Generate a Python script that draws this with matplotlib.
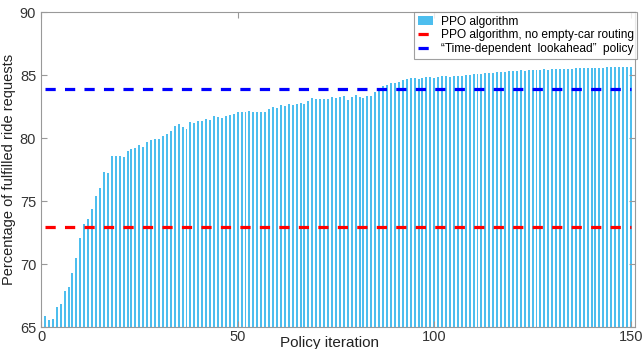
import matplotlib
matplotlib.use("Agg")
import matplotlib.pyplot as plt
import numpy as np

iterations = list(range(1, 151))
ppo_values = [
    65.87, 65.56, 65.63, 66.60, 66.85, 67.86, 68.20, 69.30, 70.50, 72.10,
    73.20, 73.60, 74.40, 75.40, 76.00, 77.30, 77.25, 78.60, 78.60, 78.55,
    78.50, 79.00, 79.13, 79.23, 79.44, 79.29, 79.70, 79.84, 79.90, 79.95,
    80.16, 80.35, 80.56, 80.93, 81.11, 80.87, 80.71, 81.24, 81.19, 81.35,
    81.35, 81.53, 81.43, 81.77, 81.64, 81.59, 81.75, 81.83, 81.93, 82.04,
    82.09, 82.06, 82.14, 82.04, 82.04, 82.04, 82.04, 82.30, 82.46, 82.38,
    82.62, 82.54, 82.67, 82.64, 82.72, 82.78, 82.70, 82.94, 83.20, 83.07,
    83.07, 83.07, 83.07, 83.23, 83.20, 83.25, 83.36, 83.04, 83.23, 83.41,
    83.25, 83.20, 83.33, 83.33, 83.65, 83.76, 84.13, 84.21, 84.34, 84.34,
    84.44, 84.58, 84.68, 84.80, 84.80, 84.68, 84.79, 84.82, 84.82, 84.79,
    84.84, 84.92, 84.90, 84.84, 84.90, 84.95, 84.92, 85.00, 85.00, 85.05,
    85.05, 85.10, 85.13, 85.13, 85.18, 85.21, 85.21, 85.26, 85.29, 85.32,
    85.34, 85.36, 85.35, 85.38, 85.40, 85.40, 85.42, 85.44, 85.43, 85.45,
    85.47, 85.46, 85.48, 85.50, 85.50, 85.52, 85.53, 85.52, 85.55, 85.56,
    85.57, 85.56, 85.58, 85.60, 85.61, 85.60, 85.63, 85.64, 85.62, 85.65,
]
no_routing_value = 72.93
lookahead_value = 83.85

x_ticks = [0, 50, 100, 150]
y_ticks = [65, 70, 75, 80, 85, 90]

plt.rcParams['font.family'] = ['Liberation Sans', 'DejaVu Sans']

fig = plt.figure(figsize=(6.44, 3.49), dpi=100)
ax = fig.add_axes([0.0637, 0.063, 0.922, 0.9026])

bar_color = '#4DBEEE'
h_bar = ax.bar(iterations, [v - 65 for v in ppo_values], bottom=65, width=0.5,
               color=bar_color, edgecolor='none', linewidth=0,
               label='PPO algorithm')

lw = 2.3
h_red, = ax.plot([iterations[0], iterations[-1]], [no_routing_value] * 2,
                 color='#FF0000', linewidth=lw, linestyle=(0, (3.2, 2.9)),
                 label='PPO algorithm, no empty-car routing')
h_blue, = ax.plot([iterations[0], iterations[-1]], [lookahead_value] * 2,
                  color='#0000FF', linewidth=lw, linestyle=(0, (3.2, 2.9)),
                  label='\u201cTime-dependent  lookahead\u201d  policy')

ax.set_xlim(0, 151)
ax.set_ylim(65, 90)
ax.set_xticks(x_ticks)
ax.set_yticks(y_ticks)

spine_color = '#999999'
for s in ax.spines.values():
    s.set_color(spine_color)
    s.set_linewidth(0.8)
ax.tick_params(direction='in', colors=spine_color, labelcolor='#333333',
               labelsize=10.5, top=True, right=True, length=4, width=0.8)
ax.tick_params(axis='x', pad=2)

ax.set_xlabel('Policy iteration', fontsize=11, color='#222222')
ax.xaxis.set_label_coords(0.485, -0.03)
ax.set_ylabel('Percentage of fulfilled ride requests', fontsize=10.5,
              color='#222222', labelpad=3)

leg = ax.legend(handles=[h_bar, h_red, h_blue], loc='upper right',
                bbox_to_anchor=(1.004, 1.0), fontsize=8.6,
                frameon=True, fancybox=False, borderpad=0.3, labelspacing=0.15,
                handlelength=1.3, handletextpad=0.6, borderaxespad=0.0)
leg.get_frame().set_edgecolor('#888888')
leg.get_frame().set_linewidth(0.8)

fig.savefig('out.png', dpi=100)
